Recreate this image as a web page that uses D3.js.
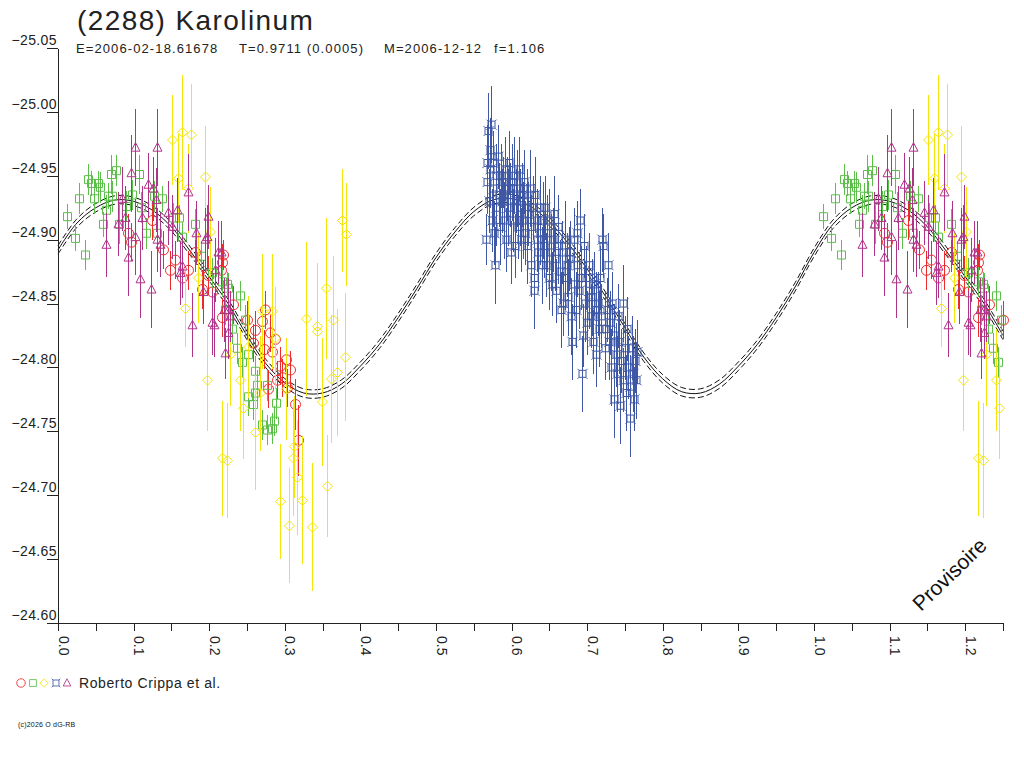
<!DOCTYPE html>
<html>
<head>
<meta charset="utf-8">
<script src="https://cdn.jsdelivr.net/npm/d3@7"></script>
<style>
  body { margin: 0; background: #fff; }
  svg { font-family: "Liberation Sans", Arial, sans-serif; }
</style>
</head>
<body>
<div class="chart"></div>
<script>
// fitted light curve: [phase, mag]
var fitCurve = [
  [0.000, -24.892], [0.025, -24.913], [0.050, -24.925], [0.075, -24.931], [0.100, -24.930],
  [0.125, -24.923], [0.150, -24.910], [0.175, -24.891], [0.200, -24.871], [0.225, -24.850],
  [0.250, -24.825], [0.275, -24.803], [0.300, -24.788], [0.325, -24.780], [0.350, -24.780],
  [0.375, -24.787], [0.400, -24.801], [0.425, -24.818], [0.450, -24.839], [0.475, -24.862],
  [0.500, -24.886], [0.525, -24.906], [0.550, -24.922], [0.575, -24.931], [0.600, -24.932],
  [0.625, -24.926], [0.650, -24.914], [0.675, -24.897], [0.700, -24.877], [0.725, -24.855],
  [0.750, -24.831], [0.775, -24.808], [0.800, -24.791], [0.825, -24.781], [0.850, -24.780],
  [0.875, -24.787], [0.900, -24.801], [0.925, -24.818], [0.950, -24.839], [0.975, -24.863],
  [1.000, -24.890], [1.025, -24.912], [1.050, -24.925], [1.075, -24.931], [1.100, -24.930],
  [1.125, -24.923], [1.150, -24.910], [1.175, -24.891], [1.200, -24.871], [1.225, -24.850],
  [1.250, -24.825]
];
var fitError = 0.0033;

// observations: [phase, mag, err]
var redPts = [
  [0.096, -24.898, 0.015], [0.092, -24.905, 0.015], [0.148, -24.876, 0.015], [0.139, -24.892, 0.015],
  [0.155, -24.884, 0.015], [0.181, -24.890, 0.015], [0.218, -24.888, 0.012], [0.217, -24.882, 0.015],
  [0.164, -24.870, 0.015], [0.172, -24.876, 0.015], [0.191, -24.861, 0.015], [0.204, -24.859, 0.015],
  [0.217, -24.839, 0.015], [0.215, -24.876, 0.015], [0.232, -24.849, 0.015], [0.250, -24.837, 0.015],
  [0.261, -24.829, 0.015], [0.270, -24.836, 0.015], [0.274, -24.845, 0.015], [0.281, -24.827, 0.015],
  [0.287, -24.822, 0.015], [0.258, -24.819, 0.015], [0.272, -24.814, 0.015], [0.283, -24.812, 0.015],
  [0.294, -24.801, 0.015], [0.301, -24.806, 0.015], [0.307, -24.798, 0.015], [0.296, -24.792, 0.015],
  [0.303, -24.784, 0.015], [0.314, -24.771, 0.020], [0.318, -24.743, 0.028], [0.278, -24.783, 0.015],
  [0.290, -24.790, 0.015], [0.124, -24.915, 0.015], [0.198, -24.872, 0.015]
];
var greenPts = [
  [0.022, -24.901, 0.010], [0.036, -24.888, 0.012], [0.028, -24.932, 0.012], [0.040, -24.947, 0.012],
  [0.044, -24.944, 0.010], [0.048, -24.932, 0.012], [0.053, -24.944, 0.010], [0.055, -24.941, 0.012],
  [0.060, -24.912, 0.010], [0.064, -24.923, 0.012], [0.066, -24.934, 0.010], [0.070, -24.951, 0.015],
  [0.077, -24.954, 0.012], [0.072, -24.934, 0.012], [0.081, -24.912, 0.015], [0.098, -24.935, 0.012],
  [0.107, -24.951, 0.015], [0.090, -24.926, 0.012], [0.117, -24.905, 0.012], [0.127, -24.934, 0.012],
  [0.138, -24.932, 0.010], [0.131, -24.905, 0.012], [0.152, -24.917, 0.012], [0.160, -24.917, 0.010],
  [0.164, -24.902, 0.012], [0.181, -24.912, 0.012], [0.189, -24.887, 0.012], [0.204, -24.874, 0.012],
  [0.217, -24.867, 0.012], [0.225, -24.862, 0.012], [0.241, -24.856, 0.012], [0.224, -24.865, 0.010],
  [0.237, -24.815, 0.012], [0.244, -24.804, 0.012], [0.251, -24.810, 0.012], [0.261, -24.797, 0.012],
  [0.263, -24.786, 0.012], [0.251, -24.777, 0.015], [0.258, -24.771, 0.012], [0.277, -24.786, 0.012],
  [0.289, -24.772, 0.012], [0.286, -24.758, 0.012], [0.270, -24.755, 0.012], [0.277, -24.751, 0.012],
  [0.283, -24.752, 0.012], [0.261, -24.780, 0.012], [0.230, -24.830, 0.012], [0.221, -24.845, 0.012],
  [0.248, -24.837, 0.012], [0.012, -24.918, 0.010], [0.110, -24.925, 0.012]
];
var yellowPts = [
  [0.151, -24.978, 0.035], [0.164, -24.984, 0.045], [0.176, -24.982, 0.040], [0.159, -24.948, 0.035],
  [0.194, -24.949, 0.040], [0.172, -24.940, 0.035], [0.201, -24.906, 0.035], [0.168, -24.846, 0.030],
  [0.197, -24.790, 0.040], [0.217, -24.729, 0.045], [0.224, -24.727, 0.045], [0.241, -24.790, 0.040],
  [0.245, -24.768, 0.040], [0.261, -24.749, 0.045], [0.251, -24.816, 0.040], [0.270, -24.844, 0.045],
  [0.283, -24.844, 0.045], [0.287, -24.823, 0.040], [0.267, -24.780, 0.045], [0.301, -24.783, 0.040],
  [0.293, -24.695, 0.045], [0.306, -24.676, 0.045], [0.316, -24.714, 0.045], [0.311, -24.729, 0.045],
  [0.312, -24.738, 0.040], [0.323, -24.696, 0.050], [0.336, -24.675, 0.050], [0.356, -24.707, 0.040],
  [0.328, -24.838, 0.060], [0.343, -24.832, 0.050], [0.342, -24.828, 0.050], [0.354, -24.862, 0.055],
  [0.364, -24.837, 0.050], [0.379, -24.808, 0.050], [0.369, -24.796, 0.050], [0.361, -24.791, 0.050],
  [0.349, -24.773, 0.050], [0.381, -24.904, 0.040], [0.376, -24.915, 0.040], [0.185, -24.870, 0.035],
  [0.228, -24.810, 0.040]
];
var bluePts = [
  [0.566, -24.900, 0.020], [0.567, -24.945, 0.025], [0.568, -24.960, 0.030], [0.569, -24.985, 0.030],
  [0.570, -24.930, 0.025], [0.571, -24.955, 0.030], [0.572, -24.970, 0.025], [0.573, -24.990, 0.030],
  [0.574, -24.915, 0.025], [0.575, -24.940, 0.030], [0.576, -24.960, 0.025], [0.577, -24.905, 0.025],
  [0.578, -24.880, 0.030], [0.579, -24.950, 0.025], [0.580, -24.925, 0.030], [0.582, -24.965, 0.025],
  [0.583, -24.935, 0.025], [0.584, -24.910, 0.030], [0.586, -24.950, 0.025], [0.587, -24.930, 0.025],
  [0.588, -24.945, 0.020], [0.590, -24.915, 0.030], [0.591, -24.955, 0.025], [0.592, -24.900, 0.025],
  [0.594, -24.940, 0.025], [0.595, -24.925, 0.030], [0.596, -24.960, 0.025], [0.598, -24.935, 0.025],
  [0.599, -24.890, 0.025], [0.600, -24.945, 0.030], [0.602, -24.915, 0.025], [0.603, -24.950, 0.030],
  [0.604, -24.895, 0.025], [0.606, -24.930, 0.025], [0.607, -24.940, 0.030], [0.608, -24.910, 0.025],
  [0.610, -24.955, 0.025], [0.611, -24.925, 0.030], [0.612, -24.900, 0.025], [0.614, -24.935, 0.025],
  [0.615, -24.915, 0.030], [0.617, -24.945, 0.025], [0.618, -24.905, 0.025], [0.620, -24.930, 0.025],
  [0.621, -24.895, 0.030], [0.622, -24.920, 0.025], [0.624, -24.940, 0.030], [0.625, -24.880, 0.025],
  [0.626, -24.910, 0.025], [0.628, -24.925, 0.025], [0.629, -24.870, 0.030], [0.630, -24.860, 0.030],
  [0.631, -24.935, 0.030], [0.633, -24.900, 0.025], [0.634, -24.915, 0.025], [0.635, -24.890, 0.030],
  [0.637, -24.925, 0.025], [0.638, -24.905, 0.025], [0.640, -24.880, 0.030], [0.641, -24.915, 0.030],
  [0.643, -24.895, 0.025], [0.644, -24.925, 0.025], [0.646, -24.880, 0.025], [0.647, -24.905, 0.030],
  [0.649, -24.870, 0.025], [0.650, -24.915, 0.025], [0.652, -24.890, 0.030], [0.653, -24.865, 0.025],
  [0.655, -24.900, 0.025], [0.656, -24.920, 0.030], [0.658, -24.885, 0.025], [0.659, -24.860, 0.025],
  [0.661, -24.895, 0.030], [0.662, -24.910, 0.025], [0.664, -24.875, 0.025], [0.665, -24.845, 0.030],
  [0.667, -24.890, 0.025], [0.668, -24.850, 0.025], [0.670, -24.900, 0.030], [0.671, -24.870, 0.025],
  [0.673, -24.880, 0.025], [0.674, -24.855, 0.030], [0.676, -24.885, 0.025], [0.677, -24.890, 0.025],
  [0.679, -24.840, 0.030], [0.680, -24.820, 0.030], [0.682, -24.865, 0.025], [0.683, -24.900, 0.025],
  [0.685, -24.845, 0.030], [0.686, -24.880, 0.025], [0.687, -24.905, 0.025], [0.689, -24.860, 0.030],
  [0.690, -24.915, 0.025], [0.692, -24.870, 0.025], [0.693, -24.795, 0.030], [0.694, -24.825, 0.025],
  [0.696, -24.895, 0.025], [0.697, -24.850, 0.030], [0.699, -24.870, 0.025], [0.700, -24.835, 0.025],
  [0.702, -24.860, 0.030], [0.703, -24.880, 0.025], [0.705, -24.840, 0.025], [0.706, -24.855, 0.030],
  [0.708, -24.820, 0.025], [0.709, -24.865, 0.025], [0.711, -24.845, 0.030], [0.712, -24.810, 0.025],
  [0.714, -24.850, 0.025], [0.715, -24.830, 0.030], [0.717, -24.870, 0.025], [0.718, -24.840, 0.025],
  [0.720, -24.900, 0.025], [0.721, -24.895, 0.025], [0.723, -24.830, 0.030], [0.724, -24.815, 0.025],
  [0.726, -24.845, 0.025], [0.727, -24.880, 0.025], [0.729, -24.820, 0.030], [0.730, -24.835, 0.025],
  [0.732, -24.800, 0.030], [0.733, -24.850, 0.025], [0.735, -24.825, 0.025], [0.736, -24.775, 0.030],
  [0.738, -24.810, 0.025], [0.739, -24.795, 0.030], [0.741, -24.840, 0.025], [0.742, -24.820, 0.025],
  [0.744, -24.770, 0.030], [0.745, -24.805, 0.025], [0.747, -24.850, 0.030], [0.748, -24.790, 0.025],
  [0.750, -24.815, 0.025], [0.751, -24.780, 0.030], [0.753, -24.830, 0.025], [0.754, -24.800, 0.025],
  [0.756, -24.760, 0.030], [0.757, -24.785, 0.025], [0.759, -24.815, 0.025], [0.760, -24.795, 0.030],
  [0.762, -24.775, 0.025], [0.763, -24.805, 0.025], [0.765, -24.790, 0.030], [0.766, -24.812, 0.025]
];
var magentaPts = [
  [0.102, -24.972, 0.030], [0.131, -24.972, 0.030], [0.096, -24.952, 0.030], [0.119, -24.943, 0.025],
  [0.125, -24.940, 0.025], [0.129, -24.931, 0.025], [0.085, -24.932, 0.025], [0.089, -24.917, 0.025],
  [0.092, -24.886, 0.030], [0.109, -24.869, 0.030], [0.123, -24.861, 0.030], [0.111, -24.917, 0.025],
  [0.146, -24.921, 0.025], [0.158, -24.923, 0.025], [0.172, -24.937, 0.030], [0.199, -24.918, 0.025],
  [0.182, -24.905, 0.025], [0.151, -24.910, 0.025], [0.131, -24.900, 0.025], [0.135, -24.896, 0.025],
  [0.102, -24.902, 0.030], [0.195, -24.900, 0.025], [0.212, -24.890, 0.025], [0.164, -24.879, 0.025],
  [0.177, -24.833, 0.025], [0.204, -24.835, 0.025], [0.225, -24.827, 0.020], [0.225, -24.845, 0.025],
  [0.162, -24.874, 0.025], [0.197, -24.902, 0.025], [0.206, -24.833, 0.025], [0.221, -24.811, 0.020],
  [0.215, -24.890, 0.025], [0.192, -24.859, 0.025], [0.208, -24.876, 0.025], [0.219, -24.845, 0.025],
  [0.228, -24.840, 0.020], [0.063, -24.896, 0.025], [0.079, -24.912, 0.025]
];

var xTicks = [0, 0.05, 0.1, 0.15, 0.2, 0.25, 0.3, 0.35, 0.4, 0.45, 0.5, 0.55, 0.6,
              0.65, 0.7, 0.75, 0.8, 0.85, 0.9, 0.95, 1.0, 1.05, 1.1, 1.15, 1.2, 1.25];
var yTicks = [-25.05, -25.00, -24.95, -24.90, -24.85, -24.80, -24.75, -24.70, -24.65, -24.60];

// marker shapes
var shapes = {
  circle: "M5,0A5,5 0 1,1 -5,0A5,5 0 1,1 5,0Z",
  square: "M-4,-4H4V4H-4Z",
  diamond: "M0,-5L5,0L0,5L-5,0Z",
  star: "M-3.5,-3.5H3.5V3.5H-3.5Z M-5,-5L-3.5,-3.5 M5,-5L3.5,-3.5 M5,5L3.5,3.5 M-5,5L-3.5,3.5",
  triangle: "M0,-5L4.5,3.5H-4.5Z"
};

var series = [
  {data: redPts, color: "#ee2a2a", shape: shapes.circle},
  {data: greenPts, color: "#5bbf4a", shape: shapes.square},
  {data: yellowPts, color: "#f4e60a", shape: shapes.diamond},
  {data: bluePts, color: "#3e58a6", shape: shapes.star},
  {data: magentaPts, color: "#b0338a", shape: shapes.triangle}
];

var margin = {top: 48, left: 58},
    width = 945,
    height = 575;

var x = d3.scaleLinear().domain([0, 1.25]).range([0, width]);
var y = d3.scaleLinear().domain([-25.05, -24.60]).range([0, height]);

var svg = d3.select(".chart").append("svg")
    .attr("width", 1024)
    .attr("height", 768);

// title lines
svg.append("text")
    .attr("x", 77).attr("y", 30)
    .attr("font-size", 28).attr("letter-spacing", 1.4)
    .attr("fill", "#222")
    .text("(2288) Karolinum");

var sub = [["E=2006-02-18.61678", 76], ["T=0.9711 (0.0005)", 239], ["M=2006-12-12", 384], ["f=1.106", 494]];
svg.selectAll(".sub").data(sub).enter().append("text")
    .attr("class", "sub")
    .attr("x", function(d) { return d[1]; })
    .attr("y", 53)
    .attr("font-size", 13).attr("letter-spacing", 1.1).attr("fill", "#222")
    .text(function(d) { return d[0]; });

var g = svg.append("g")
    .attr("transform", "translate(" + margin.left + "," + margin.top + ")");

// fit curve and its error envelope
var line = d3.line()
    .x(function(d) { return x(d[0]); })
    .y(function(d) { return y(d[1]); })
    .curve(d3.curveCatmullRom);

g.append("path").datum(fitCurve)
    .attr("d", line).attr("fill", "none").attr("stroke", "#111").attr("stroke-width", 1);
[-fitError, fitError].forEach(function(off) {
  g.append("path")
      .datum(fitCurve.map(function(d) { return [d[0], d[1] + off]; }))
      .attr("d", line).attr("fill", "none").attr("stroke", "#111")
      .attr("stroke-width", 1).attr("stroke-dasharray", "6,3");
});

// points with error bars; phases below 0.25 are repeated after 1.0
series.forEach(function(s) {
  var pts = s.data.concat(s.data
      .filter(function(d) { return d[0] + 1 <= 1.25; })
      .map(function(d) { return [d[0] + 1, d[1], d[2]]; }));
  var sg = g.append("g").attr("stroke", s.color).attr("fill", "none");
  sg.selectAll("line").data(pts).enter().append("line")
      .attr("shape-rendering", "crispEdges")
      .attr("x1", function(d) { return Math.round(x(d[0])) + 0.5; })
      .attr("x2", function(d) { return Math.round(x(d[0])) + 0.5; })
      .attr("y1", function(d) { return y(d[1] - d[2]); })
      .attr("y2", function(d) { return y(d[1] + d[2]); });
  sg.selectAll("path").data(pts).enter().append("path")
      .attr("d", s.shape)
      .attr("transform", function(d) {
        return "translate(" + (Math.round(x(d[0])) + 0.5) + "," + y(d[1]) + ")";
      });
});

// y axis
var yAxis = g.append("g")
    .call(d3.axisLeft(y).tickValues(yTicks).tickSize(11).tickSizeOuter(0)
      .tickFormat(d3.format(".2f")));
yAxis.selectAll("text")
    .attr("x", -1).attr("dy", "-0.25em")
    .attr("font-size", 14).attr("letter-spacing", 0.4)
    .attr("fill", "#222")
    .attr("font-family", "Liberation Sans, Arial, sans-serif");

// x axis
var xAxis = g.append("g")
    .attr("transform", "translate(0," + height + ")")
    .call(d3.axisBottom(x).tickValues(xTicks).tickSize(8).tickSizeOuter(0)
      .tickFormat(function(d) { return Math.round(d * 100) % 10 === 0 ? d3.format(".1f")(d) : ""; }));
xAxis.selectAll("text")
    .attr("transform", "rotate(90)")
    .attr("x", 13).attr("y", 0).attr("dy", 0)
    .attr("text-anchor", "start")
    .attr("font-size", 14).attr("fill", "#222")
    .attr("font-family", "Liberation Sans, Arial, sans-serif");

svg.selectAll(".domain, .tick line")
    .attr("stroke", "#222").attr("shape-rendering", "crispEdges");

// watermark
svg.append("text")
    .attr("transform", "translate(921,612) rotate(-44)")
    .attr("font-size", 21).attr("fill", "#111")
    .text("Provisoire");

// legend
var legendX = [21, 33, 44, 56, 67];
svg.selectAll(".leg").data(series).enter().append("path")
    .attr("class", "leg")
    .attr("d", function(d) { return d.shape; })
    .attr("fill", "none")
    .attr("stroke", function(d) { return d.color; })
    .attr("transform", function(d, i) { return "translate(" + legendX[i] + ",683) scale(0.85)"; });
svg.append("text")
    .attr("x", 79).attr("y", 688)
    .attr("font-size", 14).attr("letter-spacing", 0.6).attr("fill", "#222")
    .text("Roberto Crippa et al.");

svg.append("text")
    .attr("x", 18).attr("y", 727)
    .attr("font-size", 7).attr("letter-spacing", 0.2).attr("fill", "#111")
    .text("(c)2026 O dG-RB");
</script>
</body>
</html>
